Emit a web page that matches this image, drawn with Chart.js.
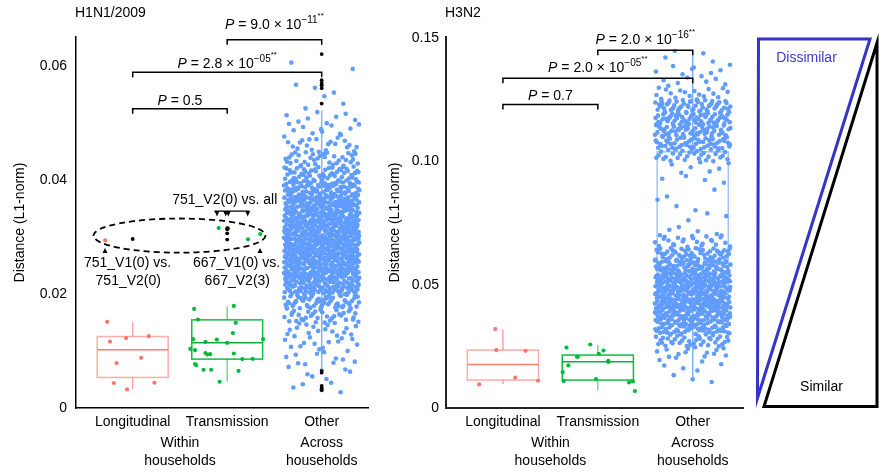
<!DOCTYPE html>
<html>
<head>
<meta charset="utf-8">
<script src="https://cdn.jsdelivr.net/npm/chart.js@4.4.1/dist/chart.umd.min.js"></script>
<style>
  body { margin: 0; background: #fff; width: 888px; height: 475px; position: relative; overflow: hidden; }
  canvas { position: absolute; top: 0; }
  #c1 { left: 0; }
  #c2 { left: 385px; }
  svg { position: absolute; left: 0; top: 0; }
</style>
</head>
<body>
<canvas id="c1" width="385" height="475"></canvas>
<canvas id="c2" width="365" height="475"></canvas>
<svg width="888" height="475" font-family="Liberation Sans, Arial, sans-serif" font-size="14">
  <polygon points="758.5,39 870,39 757.5,398" fill="none" stroke="#3434c8" stroke-width="3" stroke-miterlimit="20"/>
  <polygon points="877,43 877,406.5 764,406.5" fill="none" stroke="#000" stroke-width="3" stroke-miterlimit="20"/>
  <text x="806.5" y="62" text-anchor="middle" fill="#3c3cd2">Dissimilar</text>
  <text x="821.5" y="390.5" text-anchor="middle" fill="#000">Similar</text>
</svg>
<script>
Chart.defaults.font.family = "'Liberation Sans', Arial, sans-serif";
Chart.defaults.font.size = 14;
Chart.defaults.color = '#000';

const categories = ['Longitudinal', 'Transmission', 'Other'];
const groupLabels = [['Within', 'households'], ['Across', 'households']];
const groupPositions = [0.5, 2];

// ---- H1N1/2009 ----
const h1YTicks = [0, 0.02, 0.04, 0.06];
const h1YLabels = ['0', '0.02', '0.04', '0.06'];

const h1Longitudinal = [0.01514, 0.01168, 0.01228, 0.01263, 0.00789, 0.00882, 0.00439, 0.00326, 0.00444, 0.02946];
const h1LongitudinalJitter = [-0.27, -0.24, -0.07, 0.17, -0.17, 0.09, -0.2, -0.06, 0.23, -0.29];

const h1Transmission = [0.01742, 0.01554, 0.01794, 0.01496, 0.01316, 0.01210, 0.01163, 0.01203, 0.01145, 0.01210,
  0.01040, 0.01017, 0.00965, 0.00947, 0.00940, 0.00958, 0.00859, 0.00865, 0.00772, 0.00754,
  0.00672, 0.00672, 0.00654, 0.00461, 0.03163, 0.03157, 0.02964, 0.03057];
const h1TransmissionJitter = [-0.35, -0.31, 0.07, 0.09, 0.06, -0.36, -0.23, -0.11, 0.0, 0.38,
  -0.39, -0.34, -0.23, -0.18, -0.21, 0.07, 0.16, 0.27, -0.34, -0.33,
  -0.25, -0.17, 0.12, -0.08, -0.09, 0.01, 0.22, 0.35];

// "Other" pairs: number of points in each 0.0025 band, counted off the picture
const h1OtherBinStart = 0.0025;
const h1OtherBinWidth = 0.0025;
const h1OtherCounts = [5, 6, 10, 14, 18, 35, 60, 95, 115, 130, 130, 125, 115, 100, 80, 55, 35, 20, 12, 8, 3, 3, 1, 1];

const h1Outliers = [
  [0.0297],
  [0.0316, 0.0314, 0.0307, 0.0296],
  [0.0622, 0.0576, 0.0571, 0.0567, 0.0562, 0.0535, 0.0066, 0.0062, 0.0039, 0.0035, 0.0031]
];
// [lower whisker, Q1, median, Q3, upper whisker]
const h1Boxes = [
  [0.00339, 0.00537, 0.01023, 0.01256, 0.01508],
  [0.00467, 0.00859, 0.01145, 0.01549, 0.01789],
  [0.0067, 0.0213, 0.0295, 0.0355, 0.0523]
];
const h1Brackets = [
  { from: 0, to: 1, y: 0.0526, p: '0.5' },
  { from: 0, to: 2, y: 0.0590, p: '2.8', exp: '\u221205', stars: '**' },
  { from: 1, to: 2, y: 0.0647, p: '9.0', exp: '\u221211', stars: '**' }
];

// ---- H3N2 ----
const h3YTicks = [0, 0.05, 0.10, 0.15];
const h3YLabels = ['0', '0.05', '0.10', '0.15'];

const h3Longitudinal = [0.0320, 0.0235, 0.0232, 0.0123, 0.00956, 0.01106];
const h3LongitudinalJitter = [-0.08, -0.07, 0.24, 0.13, -0.25, 0.37];

const h3Transmission = [0.02455, 0.02576, 0.02333, 0.02199, 0.02078, 0.02078, 0.01916, 0.01875,
  0.01727, 0.01458, 0.01174, 0.01093, 0.01037, 0.01077, 0.00688];
const h3TransmissionJitter = [-0.33, -0.08, 0.06, 0.01, -0.22, -0.21, 0.11, 0.11,
  -0.31, -0.37, -0.02, -0.36, 0.33, 0.37, 0.39];

const h3OtherBinStart = 0.010;
const h3OtherBinWidth = 0.005;
const h3OtherCounts = [3, 6, 14, 38, 62, 85, 95, 95, 92, 78, 55, 24, 5, 3, 3, 2, 4, 7, 30, 50, 58, 62, 56, 18, 8, 8, 4];

const h3Outliers = [[], [], []];
const h3Boxes = [
  [0.00972, 0.01134, 0.01766, 0.02349, 0.03183],
  [0.00713, 0.01134, 0.01875, 0.02147, 0.02552],
  [0.0108, 0.0405, 0.0513, 0.1039, 0.1451]
];
const h3Brackets = [
  { from: 0, to: 1, y: 0.1231, p: '0.7' },
  { from: 0, to: 2, y: 0.1338, p: '2.0', exp: '\u221205', stars: '**' },
  { from: 1, to: 2, y: 0.1451, p: '2.0', exp: '\u221216', stars: '**' }
];

const colors = ['#F8766D', '#00BA38', '#619CFF'];
const boxStyles = [
  { box: 'rgba(248,118,109,0.6)', median: 'rgba(248,118,109,0.95)', whisker: 'rgba(248,118,109,0.65)' },
  { box: 'rgba(0,186,56,0.95)', median: 'rgba(0,168,50,0.95)', whisker: 'rgba(0,186,56,0.55)' },
  { box: 'rgba(97,156,255,0.6)', median: 'rgba(97,156,255,0.6)', whisker: 'rgba(97,156,255,0.8)' }
];

function jittered(values, jitter, cat) {
  return values.map((v, i) => ({ x: cat + jitter[i], y: v }));
}

function radicalInverse(n, base) {
  let f = 1, r = 0;
  while (n > 0) { f /= base; r += f * (n % base); n = Math.floor(n / base); }
  return r;
}

// spread the counted points of each band evenly over the band and the jitter width
function fromBands(start, width, counts, cat) {
  const pts = [];
  let k = 1;
  counts.forEach((c, i) => {
    for (let j = 0; j < c; j++, k++) {
      pts.push({ x: cat + (radicalInverse(k, 2) - 0.5) * 0.8, y: start + width * (i + radicalInverse(k, 3)) });
    }
  });
  return pts;
}

function pLabel(ctx, cx, cy, b) {
  const fam = Chart.defaults.font.family;
  const parts = [
    { t: 'P', f: 'italic 14px ' + fam, dy: 0 },
    { t: ' = ' + b.p + (b.exp ? ' \u00d7 10' : ''), f: '14px ' + fam, dy: 0 }
  ];
  if (b.exp) parts.push({ t: b.exp, f: '10px ' + fam, dy: -5 });
  if (b.stars) parts.push({ t: b.stars, f: '8px ' + fam, dy: -9 });
  let w = 0;
  parts.forEach(p => { ctx.font = p.f; p.w = ctx.measureText(p.t).width; w += p.w; });
  let x = cx - w / 2;
  ctx.textAlign = 'left';
  ctx.textBaseline = 'middle';
  parts.forEach(p => { ctx.font = p.f; ctx.fillText(p.t, x, cy + p.dy); x += p.w; });
}

function makePlugin(title, boxes, brackets, gaps, notes) {
  return {
    id: 'extras',
    afterDatasetsDraw(chart) {
      const { ctx, scales: { x, y } } = chart;
      ctx.save();
      ctx.lineWidth = 1.5;
      boxes.forEach((s, i) => {
        const st = boxStyles[i];
        const l = x.getPixelForValue(i - 0.375), r = x.getPixelForValue(i + 0.375), c = x.getPixelForValue(i);
        const [lo, q1, med, q3, hi] = s.map(v => y.getPixelForValue(v));
        ctx.strokeStyle = st.whisker;
        ctx.beginPath();
        ctx.moveTo(c, hi); ctx.lineTo(c, q3);
        ctx.moveTo(c, q1); ctx.lineTo(c, lo);
        ctx.stroke();
        ctx.strokeStyle = st.box;
        ctx.strokeRect(l, q3, r - l, q1 - q3);
        ctx.strokeStyle = st.median;
        ctx.beginPath();
        ctx.moveTo(l, med); ctx.lineTo(r, med);
        ctx.stroke();
      });
      ctx.restore();
    },
    afterDraw(chart) {
      const { ctx, chartArea, scales: { x, y } } = chart;
      ctx.save();
      ctx.fillStyle = '#000';
      ctx.strokeStyle = '#000';
      ctx.font = '14px ' + Chart.defaults.font.family;
      ctx.textBaseline = 'middle';
      ctx.textAlign = 'left';
      ctx.fillText(title, chartArea.left - 1, 13);
      ctx.textAlign = 'center';
      groupLabels.forEach((g, i) => {
        const gx = x.getPixelForValue(groupPositions[i]);
        ctx.fillText(g[0], gx, chartArea.bottom + 35);
        ctx.fillText(g[1], gx, chartArea.bottom + 53);
      });
      ctx.lineWidth = 1.5;
      brackets.forEach((b, i) => {
        const x1 = x.getPixelForValue(b.from), x2 = x.getPixelForValue(b.to), by = y.getPixelForValue(b.y);
        ctx.beginPath();
        ctx.moveTo(x1, by + 5); ctx.lineTo(x1, by); ctx.lineTo(x2, by); ctx.lineTo(x2, by + 5);
        ctx.stroke();
        pLabel(ctx, (x1 + x2) / 2, by - gaps[i], b);
      });
      if (notes) {
        const e = notes.ellipse;
        const ex = x.getPixelForValue(e.x), ey = y.getPixelForValue(e.y);
        const rx = x.getPixelForValue(e.x + e.rx) - ex, ry = ey - y.getPixelForValue(e.y + e.ry);
        ctx.setLineDash([6, 4]);
        ctx.lineWidth = 1.8;
        ctx.beginPath();
        ctx.ellipse(ex, ey, rx, ry, 0, 0, Math.PI * 2);
        ctx.stroke();
        ctx.setLineDash([]);
        ctx.lineWidth = 1.3;
        notes.up.forEach(p => {
          const px = x.getPixelForValue(p.x), py = y.getPixelForValue(p.y);
          ctx.beginPath();
          ctx.moveTo(px, py); ctx.lineTo(px - 2.5, py + 5); ctx.lineTo(px + 2.5, py + 5); ctx.closePath();
          ctx.fill();
        });
        const ly = y.getPixelForValue(notes.downLine.y);
        ctx.beginPath();
        ctx.moveTo(x.getPixelForValue(notes.downLine.from), ly);
        ctx.lineTo(x.getPixelForValue(notes.downLine.to), ly);
        ctx.stroke();
        notes.down.forEach(dx => {
          const px = x.getPixelForValue(dx);
          ctx.beginPath();
          ctx.moveTo(px - 2.5, ly); ctx.lineTo(px + 2.5, ly); ctx.lineTo(px, ly + 5.5); ctx.closePath();
          ctx.fill();
        });
        ctx.font = '14px ' + Chart.defaults.font.family;
        ctx.textAlign = 'center';
        notes.texts.forEach(t => {
          ctx.fillText(t.text, x.getPixelForValue(t.x), y.getPixelForValue(t.y));
        });
      }
      ctx.restore();
    }
  };
}

function makeChart(id, cfg) {
  const datasets = [
    { data: cfg.outliers.flatMap((vals, c) => vals.map(v => ({ x: c, y: v }))), backgroundColor: '#000', pointRadius: 1.9 },
    { data: jittered(cfg.long, cfg.longJitter, 0), backgroundColor: colors[0], pointRadius: 2.1 },
    { data: jittered(cfg.trans, cfg.transJitter, 1), backgroundColor: colors[1], pointRadius: 2.1 },
    { data: fromBands(cfg.binStart, cfg.binWidth, cfg.counts, 2), backgroundColor: colors[2], pointRadius: 2.3 }
  ];
  datasets.forEach(d => { d.borderWidth = 0; d.pointHoverRadius = 0; });
  return new Chart(document.getElementById(id), {
    type: 'scatter',
    data: { datasets },
    options: {
      responsive: false,
      animation: false,
      layout: { padding: { top: 37, right: cfg.rightPad, left: 0, bottom: 0 } },
      plugins: { legend: { display: false }, tooltip: { enabled: false } },
      scales: {
        x: {
          type: 'linear', min: -0.6, max: cfg.xMax,
          grid: { display: false, drawTicks: false },
          border: { display: true, color: cfg.axisColor, width: cfg.axisWidth },
          afterBuildTicks: s => { s.ticks = categories.map((c, i) => ({ value: i })); },
          afterFit: s => { s.height = 67; },
          ticks: { padding: 6, maxRotation: 0, autoSkip: false, callback: v => categories[v] }
        },
        y: {
          min: 0, max: cfg.yMax,
          grid: { display: false, drawTicks: false },
          border: { display: true, color: cfg.axisColor, width: cfg.axisWidth },
          afterBuildTicks: s => { s.ticks = cfg.yTicks.map(v => ({ value: v })); },
          afterFit: s => { s.width = cfg.yWidth; },
          ticks: { padding: cfg.tickPad, callback: v => cfg.yLabels[cfg.yTicks.indexOf(v)] },
          title: { display: true, text: 'Distance (L1-norm)', padding: { top: cfg.titlePad, bottom: 0 } }
        }
      }
    },
    plugins: [makePlugin(cfg.title, cfg.boxes, cfg.brackets, cfg.gaps, cfg.notes)]
  });
}

makeChart('c1', {
  title: 'H1N1/2009', yMax: 0.0652, xMax: 2.49, yTicks: h1YTicks, yLabels: h1YLabels,
  long: h1Longitudinal, longJitter: h1LongitudinalJitter,
  trans: h1Transmission, transJitter: h1TransmissionJitter,
  binStart: h1OtherBinStart, binWidth: h1OtherBinWidth, counts: h1OtherCounts,
  outliers: h1Outliers, boxes: h1Boxes, brackets: h1Brackets, gaps: [8, 8, 15],
  rightPad: 17, yWidth: 76, tickPad: 9, titlePad: 12, axisColor: '#000', axisWidth: 1.5,
  notes: {
    ellipse: { x: 0.495, y: 0.0303, rx: 0.91, ry: 0.003 },
    up: [{ x: -0.293, y: 0.0281 }, { x: 1.347, y: 0.0281 }],
    downLine: { y: 0.0346, from: 0.864, to: 1.234 },
    down: [0.892, 0.984, 1.012, 1.217],
    texts: [
      { text: '751_V2(0) vs. all', x: 0.974, y: 0.03654 },
      { text: '751_V1(0) vs.', x: -0.055, y: 0.02543 },
      { text: '751_V2(0)', x: -0.047, y: 0.02221 },
      { text: '667_V1(0) vs.', x: 1.10, y: 0.02543 },
      { text: '667_V2(3)', x: 1.107, y: 0.02221 }
    ]
  }
});

makeChart('c2', {
  title: 'H3N2', yMax: 0.1505, xMax: 2.53, yTicks: h3YTicks, yLabels: h3YLabels,
  long: h3Longitudinal, longJitter: h3LongitudinalJitter,
  trans: h3Transmission, transJitter: h3TransmissionJitter,
  binStart: h3OtherBinStart, binWidth: h3OtherBinWidth, counts: h3OtherCounts,
  outliers: h3Outliers, boxes: h3Boxes, brackets: h3Brackets, gaps: [8, 10, 10],
  rightPad: 7, yWidth: 61, tickPad: 7, titlePad: 2, axisColor: '#222', axisWidth: 2,
  notes: null
});
</script>
</body>
</html>
